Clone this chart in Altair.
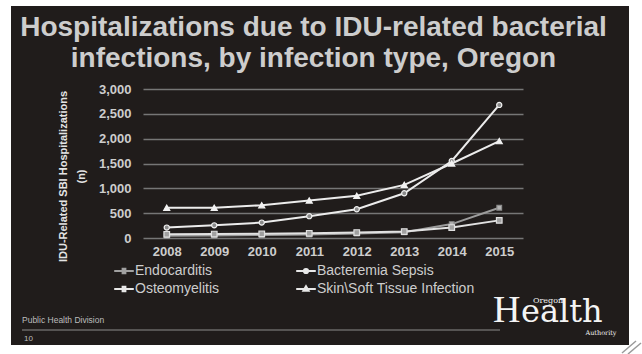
import altair as alt
import pandas as pd

# Annual counts of IDU-related serious bacterial infection hospitalizations
years = [2008, 2009, 2010, 2011, 2012, 2013, 2014, 2015]
series_names = ["Endocarditis", "Bacteremia Sepsis", "Osteomyelitis", "Skin\\Soft Tissue Infection"]
endocarditis = [45, 50, 60, 70, 90, 115, 280, 610]
bacteremia_sepsis = [210, 255, 310, 440, 580, 900, 1550, 2680]
osteomyelitis = [75, 80, 85, 95, 110, 130, 210, 355]
skin_soft_tissue = [610, 610, 660, 755, 850, 1070, 1500, 1950]
y_ticks = [0, 500, 1000, 1500, 2000, 2500, 3000]

title_lines = ["Hospitalizations due to IDU-related bacterial",
               "infections, by infection type, Oregon"]
y_title = ["IDU-Related SBI Hospitalizations", "(n)"]

rows = []
for name, vals in zip(series_names, [endocarditis, bacteremia_sepsis, osteomyelitis, skin_soft_tissue]):
    for yr, v in zip(years, vals):
        rows.append({"year": str(yr), "series": name, "entry": name, "value": v})
df = pd.DataFrame(rows)

FONT = "Liberation Sans"
SLIDE = "#201c1b"
TEXT = "#cdcdcd"

x_enc = alt.X(
    "year:O",
    scale=alt.Scale(type="point", padding=0.5),
    axis=alt.Axis(title=None, labelAngle=0, ticks=False, domain=False, grid=False,
                  labelPadding=7, labelFontSize=13, labelFontWeight="bold",
                  labelColor=TEXT, labelFont=FONT),
)
y_enc = alt.Y(
    "value:Q",
    scale=alt.Scale(domain=[0, 3000], nice=False),
    axis=alt.Axis(values=y_ticks, tickCount=len(y_ticks), format=",d", labelOverlap=False,
                  ticks=False, domain=False, grid=True,
                  gridColor="#767676", gridWidth=1.5, labelPadding=12,
                  labelFontSize=13, labelFontWeight="bold", labelColor=TEXT, labelFont=FONT,
                  title=y_title, titleFont=FONT, titleFontSize=11, titleFontWeight="bold",
                  titleColor="#e4e4e4", titleAngle=270, titleAlign="center",
                  titleBaseline="middle", titleX=-80, titleY=87, titleLineHeight=18),
)

lines = alt.Chart(df).mark_line(strokeWidth=2).encode(
    x=x_enc,
    y=y_enc,
    color=alt.Color("series:N", legend=None,
                    scale=alt.Scale(domain=series_names,
                                    range=["#9c9c9c", "#ececec", "#e2e2e2", "#ececec"])),
)

points = alt.Chart(df).mark_point(filled=False, strokeWidth=1.2, opacity=1).encode(
    x=x_enc,
    y=y_enc,
    shape=alt.Shape("series:N", legend=None,
                    scale=alt.Scale(domain=series_names,
                                    range=["square", "circle", "square", "triangle-up"])),
    fill=alt.Fill("series:N", legend=None,
                  scale=alt.Scale(domain=series_names,
                                  range=["#b4b4b4", "#8a8a8a", "#a0a0a0", "#f2f2f2"])),
    stroke=alt.Stroke("series:N", legend=None,
                      scale=alt.Scale(domain=series_names,
                                      range=["#8c8c8c", "#f0f0f0", "#e0e0e0", "#f2f2f2"])),
    size=alt.Size("series:N", legend=None,
                  scale=alt.Scale(domain=series_names, range=[22, 36, 22, 50])),
)

# Legend entries fill columns first: left column Endocarditis/Osteomyelitis
legend_order = ["Endocarditis", "Osteomyelitis", "Bacteremia Sepsis", "Skin\\Soft Tissue Infection"]
# Legend symbols: a short line with the series marker in the middle
legend_paths = [
    "M-1.4,0H1.4M-0.2,-0.32H0.2V0.32H-0.2Z",
    "M-1.4,0H1.4M-0.2,-0.32H0.2V0.32H-0.2Z",
    "M-1.4,0H1.4M-0.3,0A0.3,0.3 0 1,1 0.3,0A0.3,0.3 0 1,1 -0.3,0Z",
    "M-1.4,0H1.4M0,-0.4L0.38,0.26H-0.38Z",
]
legend_def = alt.Legend(title=None, orient="none", legendX=-27, legendY=174, columns=2,
                        columnPadding=72, rowPadding=3, padding=0, labelOffset=3,
                        labelFont=FONT, labelFontSize=14, labelColor=TEXT,
                        symbolStrokeWidth=2, symbolSize=196, symbolOpacity=1)
legend_layer = alt.Chart(df).transform_filter("false").mark_point(size=196, strokeWidth=2).encode(
    x=x_enc,
    y=y_enc,
    shape=alt.Shape("entry:N", legend=legend_def,
                    scale=alt.Scale(domain=legend_order, range=legend_paths)),
    stroke=alt.Stroke("entry:N", legend=legend_def,
                      scale=alt.Scale(domain=legend_order,
                                      range=["#a0a0a0", "#e8e8e8", "#e8e8e8", "#e8e8e8"])),
    fill=alt.Fill("entry:N", legend=legend_def,
                  scale=alt.Scale(domain=legend_order,
                                  range=["#c4c4c4", "#a0a0a0", "#e8e8e8", "#e8e8e8"])),
)

one = alt.Data(values=[{}])


def label(text, x, y, size, color=TEXT, weight="normal", align="left", font=FONT,
          baseline="alphabetic"):
    return alt.Chart(one).mark_text(
        text=text, font=font, fontSize=size, fontWeight=weight, color=color,
        align=align, baseline=baseline,
    ).encode(x=alt.value(x), y=alt.value(y))


title1 = label(title_lines[0], 170.5, -53, 28, weight="bold", align="center")
title2 = label(title_lines[1], 170.5, -22, 28, weight="bold", align="center")

footer = label("Public Health Division", -121, 231, 8.5, color="#bdbdbd", baseline="middle")
page_no = label("10", -119, 250, 8, color="#bdbdbd", baseline="middle")
footer_rule = alt.Chart(one).mark_rule(color="#8c8c8c", strokeWidth=1).encode(
    x=alt.value(-121), x2=alt.value(357), y=alt.value(241))

# Agency wordmark: large initial, smaller remainder, small words above and below
logo_h = label("H", 350, 233, 38, color="#f4f4f4", font="Liberation Serif")
logo_rest = label("ealth", 378, 233, 32, color="#f4f4f4", font="DejaVu Serif")
logo_top = label("Oregon", 405, 212, 8, color="#f4f4f4", font="DejaVu Serif", align="center",
                 baseline="middle")
logo_bottom = label("Authority", 458, 244, 6.5, color="#f4f4f4", font="DejaVu Serif",
                    align="center", baseline="middle")

# White page margin around the dark slide
frame_color = "#ffffff"
frame = [
    alt.Chart(one).mark_rect(color=frame_color).encode(
        x=alt.value(-143), x2=alt.value(499), y=alt.value(-89), y2=alt.value(-83)),
    alt.Chart(one).mark_rect(color=frame_color).encode(
        x=alt.value(-143), x2=alt.value(-132), y=alt.value(-89), y2=alt.value(265)),
    alt.Chart(one).mark_rect(color=frame_color).encode(
        x=alt.value(486), x2=alt.value(499), y=alt.value(-89), y2=alt.value(265)),
    alt.Chart(one).mark_rect(color=frame_color).encode(
        x=alt.value(-143), x2=alt.value(499), y=alt.value(256), y2=alt.value(265)),
    alt.Chart(one).mark_rule(color="#9a9a9a", strokeWidth=1.5).encode(
        x=alt.value(479), x2=alt.value(493), y=alt.value(264), y2=alt.value(252)),
    alt.Chart(one).mark_rule(color="#9a9a9a", strokeWidth=1.5).encode(
        x=alt.value(485), x2=alt.value(498), y=alt.value(265), y2=alt.value(254)),
]

chart = alt.layer(
    lines, points, legend_layer,
    title1, title2, footer, page_no, footer_rule,
    logo_h, logo_rest, logo_top, logo_bottom,
    *frame,
).resolve_scale(
    shape="independent", fill="independent", stroke="independent", size="independent",
).properties(
    width=380,
    height=149,
    autosize=alt.AutoSizeParams(type="none"),
    padding={"left": 143, "top": 89, "right": 119, "bottom": 116},
    background=SLIDE,
).configure_view(stroke=None)

chart.save("out.html", embed_options={"renderer": "svg", "actions": False})
